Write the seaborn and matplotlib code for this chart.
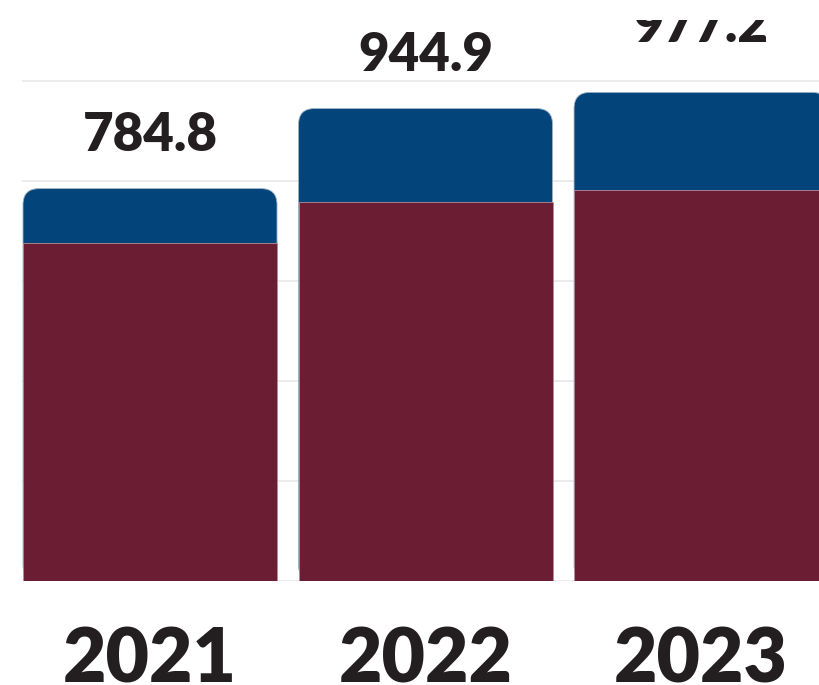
import matplotlib
matplotlib.use("Agg")
import matplotlib.pyplot as plt
import seaborn as sns
import pandas as pd
from matplotlib.patches import FancyBboxPatch, Rectangle

# values
years = ["2021", "2022", "2023"]
totals = [784.8, 944.9, 977.2]
base_part = [676.0, 758.0, 782.0]

BLUE = "#03457A"
MAROON = "#6B1D34"
TEXT = "#231F20"

df = pd.DataFrame({"year": years, "total": totals, "base": base_part})

sns.set_theme(style="white")
plt.rcParams["font.family"] = ["Lato", "DejaVu Sans"]

fig = plt.figure(figsize=(8.19, 6.85), dpi=100)
ax = fig.add_axes([22 / 819, 1 - 581 / 685, 1 - 22 / 819, 581 / 685])

sns.barplot(data=df, x="year", y="total", color=BLUE, width=0.922,
            saturation=1, ax=ax, zorder=2)
n_blue = len(ax.patches)
sns.barplot(data=df, x="year", y="base", color=MAROON, width=0.922,
            saturation=1, ax=ax, zorder=3)

ax.set_xlim(-0.4646, 2.428)
ax.set_ylim(0, 1162)

# px -> data aspect for rounded corners
x_per_px = (2.428 + 0.4646) / (819 - 22)
y_per_px = 1162 / 581
radius_px = 16

for p in list(ax.patches[:n_blue]):
    x0, y0 = p.get_x(), p.get_y()
    w, h = p.get_width(), p.get_height()
    rp = FancyBboxPatch((x0, y0), w, h,
                        boxstyle=f"round,pad=0,rounding_size={radius_px * x_per_px}",
                        mutation_aspect=y_per_px / x_per_px,
                        facecolor=BLUE, edgecolor="#9fb3c8", linewidth=0.6,
                        zorder=2)
    p.remove()
    ax.add_patch(rp)

for p in ax.patches:
    if isinstance(p, plt.Rectangle):
        p.set_edgecolor("#b98c99")
        p.set_linewidth(0.6)

# the original is cropped a little below its top edge
clip = Rectangle((0, 0), 1, 1 - 20 / 685, transform=fig.transFigure,
                 facecolor="none", edgecolor="none")

# last label sits a bit higher in the original
nudge = {2: 24}
for i, t in enumerate(totals):
    txt = ax.text(i, t + 58 + nudge.get(i, 0), f"{t:.1f}", ha="center",
                  va="bottom", fontsize=38, fontweight="heavy", color=TEXT,
                  clip_on=True)
    txt.set_clip_path(clip)

ax.set_yticks(range(0, 1200, 200))
ax.yaxis.grid(True, color="#e8e8e8", linewidth=1.2, zorder=0)
ax.set_axisbelow(True)
ax.tick_params(axis="y", left=False, labelleft=False)
ax.tick_params(axis="x", bottom=False, pad=26, labelsize=54, labelcolor=TEXT)
for lab in ax.get_xticklabels():
    lab.set_fontweight("heavy")
ax.set_xlabel("")
ax.set_ylabel("")
for s in ax.spines.values():
    s.set_visible(False)

fig.savefig("out.png", dpi=100)
